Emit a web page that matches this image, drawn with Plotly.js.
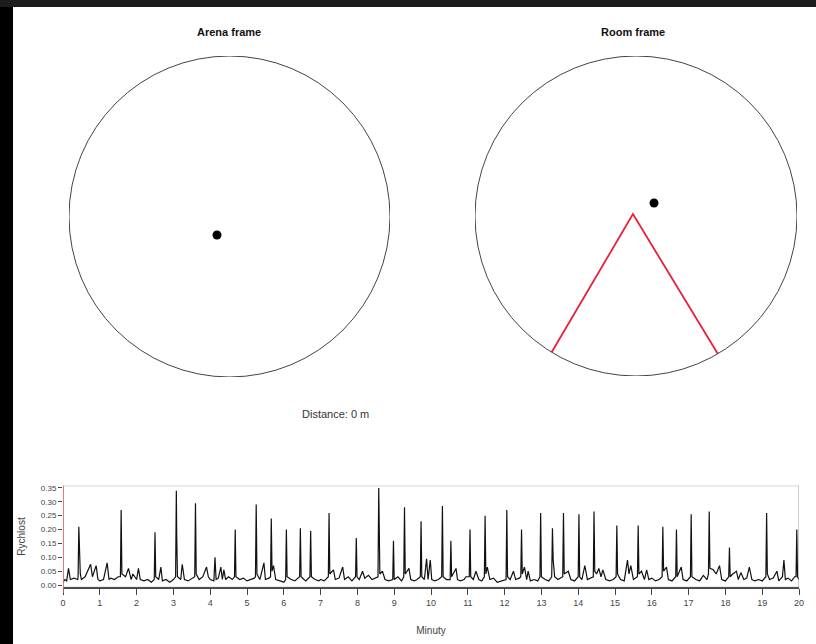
<!DOCTYPE html>
<html>
<head>
<meta charset="utf-8">
<script src="https://cdn.plot.ly/plotly-3.0.1.min.js"></script>
<style>html,body{margin:0;padding:0;background:#fff;}#chart{width:816px;height:644px;}</style>
</head>
<body>
<div id="chart"></div>
<script>
// ---- Data ----
const panelTitles = ["Arena frame", "Room frame"];
const distanceLabel = "Distance: 0 m";
const arenaRadius = 1;
const arenaDot = [-0.078, -0.115];   // animal position, arena frame
const roomDot = [0.112, 0.081];      // animal position, room frame
const sectorX = [-0.524, -0.019, 0.508]; // shock sector edges, room frame
const sectorY = [-0.852, 0.012, -0.861];
const currentMinute = 0;

const minutes = [
 0,0.05,0.1,0.15,0.2,0.3,0.4,0.41,0.43,0.45,0.47,0.5,0.6,0.7,0.75,0.8,0.9,0.95,
 1.0,1.1,1.2,1.25,1.3,1.4,1.5,1.56,1.58,1.6,1.7,1.78,1.85,1.9,
 2.0,2.05,2.1,2.2,2.3,2.4,2.48,2.5,2.52,2.6,2.66,2.7,2.8,2.9,
 3.0,3.06,3.08,3.09,3.11,3.2,3.24,3.3,3.4,3.5,3.58,3.6,3.62,3.7,3.8,3.9,3.95,
 4.0,4.1,4.13,4.16,4.22,4.29,4.33,4.37,4.42,4.5,4.6,4.66,4.68,4.7,4.8,4.9,
 5.0,5.1,5.2,5.23,5.25,5.27,5.35,5.46,5.5,5.6,5.64,5.66,5.68,5.72,5.78,5.9,
 6.0,6.05,6.07,6.09,6.2,6.3,6.4,6.43,6.45,6.47,6.55,6.6,6.71,6.73,6.75,6.85,6.95,
 7.0,7.1,7.21,7.23,7.25,7.35,7.4,7.5,7.6,7.65,7.75,7.85,7.95,7.97,7.99,
 8.05,8.14,8.2,8.3,8.4,8.5,8.56,8.58,8.59,8.61,8.68,8.75,8.85,8.96,8.98,9.0,
 9.1,9.2,9.26,9.28,9.3,9.4,9.45,9.55,9.62,9.71,9.73,9.75,9.82,9.88,9.92,9.98,
 10.02,10.1,10.2,10.29,10.31,10.33,10.42,10.52,10.54,10.56,10.68,10.72,10.8,10.9,10.95,
 11.04,11.06,11.08,11.15,11.22,11.3,11.38,11.45,11.47,11.49,11.53,11.6,11.7,11.8,11.9,
 12.04,12.06,12.08,12.15,12.24,12.3,12.4,12.44,12.46,12.48,12.54,12.6,12.64,12.7,12.8,12.9,12.96,12.98,13.0,
 13.1,13.2,13.28,13.3,13.32,13.36,13.45,13.58,13.6,13.62,13.73,13.8,13.9,14.0,
 14.02,14.04,14.1,14.18,14.25,14.35,14.41,14.43,14.45,14.5,14.56,14.62,14.67,14.75,14.85,14.95,
 15.03,15.05,15.07,15.15,15.25,15.34,15.38,15.43,15.5,15.61,15.63,15.65,15.72,15.8,15.86,15.92,
 16.0,16.1,16.2,16.28,16.3,16.32,16.4,16.45,16.55,16.65,16.67,16.69,16.8,16.85,16.95,
 17.05,17.07,17.09,17.2,17.3,17.4,17.5,17.54,17.56,17.58,17.67,17.75,17.84,17.9,18.0,
 18.09,18.11,18.13,18.2,18.3,18.35,18.42,18.5,18.58,18.65,18.72,18.8,18.9,19.0,
 19.1,19.12,19.14,19.2,19.3,19.4,19.45,19.55,19.59,19.63,19.7,19.8,19.88,19.92,19.94,19.96,20.0
];
const speed = [
 0.01,0.02,0.015,0.06,0.02,0.025,0.02,0.03,0.21,0.11,0.04,0.02,0.03,0.06,0.075,0.03,0.07,0.02,
 0.015,0.02,0.08,0.02,0.025,0.02,0.03,0.03,0.27,0.04,0.03,0.06,0.02,0.04,
 0.02,0.06,0.02,0.015,0.02,0.01,0.02,0.19,0.03,0.02,0.065,0.015,0.02,0.01,
 0.02,0.03,0.34,0.18,0.03,0.02,0.075,0.02,0.015,0.025,0.03,0.295,0.04,0.02,0.03,0.065,0.03,
 0.02,0.015,0.10,0.02,0.025,0.065,0.02,0.055,0.02,0.03,0.02,0.03,0.20,0.03,0.02,0.025,
 0.015,0.02,0.025,0.03,0.29,0.04,0.02,0.08,0.02,0.025,0.03,0.24,0.05,0.07,0.02,0.015,
 0.01,0.02,0.20,0.03,0.02,0.015,0.025,0.03,0.205,0.03,0.02,0.015,0.03,0.195,0.03,0.02,0.015,
 0.02,0.015,0.03,0.26,0.04,0.055,0.02,0.025,0.065,0.02,0.03,0.015,0.03,0.17,0.03,
 0.02,0.05,0.025,0.035,0.02,0.025,0.03,0.35,0.18,0.04,0.05,0.02,0.015,0.02,0.16,0.02,
 0.03,0.015,0.03,0.28,0.04,0.06,0.02,0.015,0.02,0.03,0.23,0.03,0.02,0.095,0.02,0.09,
 0.02,0.015,0.02,0.03,0.285,0.03,0.02,0.02,0.16,0.03,0.06,0.02,0.015,0.02,0.03,
 0.03,0.20,0.03,0.02,0.05,0.02,0.015,0.03,0.25,0.04,0.065,0.02,0.025,0.01,0.015,
 0.02,0.27,0.03,0.02,0.05,0.02,0.025,0.03,0.20,0.04,0.065,0.02,0.05,0.015,0.02,0.015,0.03,0.26,0.03,
 0.02,0.015,0.03,0.205,0.09,0.03,0.02,0.03,0.26,0.04,0.05,0.02,0.015,0.03,
 0.255,0.03,0.02,0.07,0.02,0.025,0.03,0.265,0.05,0.04,0.06,0.03,0.055,0.02,0.015,0.02,
 0.03,0.215,0.04,0.02,0.015,0.09,0.04,0.07,0.02,0.03,0.215,0.04,0.05,0.02,0.055,0.02,
 0.025,0.015,0.02,0.03,0.21,0.05,0.065,0.02,0.015,0.03,0.20,0.03,0.065,0.02,0.015,
 0.03,0.255,0.03,0.02,0.015,0.035,0.02,0.04,0.265,0.06,0.055,0.04,0.07,0.02,0.015,
 0.03,0.135,0.03,0.04,0.05,0.02,0.045,0.02,0.025,0.065,0.02,0.015,0.02,0.015,
 0.03,0.26,0.04,0.02,0.025,0.05,0.015,0.03,0.09,0.02,0.025,0.015,0.03,0.03,0.20,0.03,0.02
];
const yTicks = [0, 0.05, 0.10, 0.15, 0.20, 0.25, 0.30, 0.35];
const xTicks = [0,1,2,3,4,5,6,7,8,9,10,11,12,13,14,15,16,17,18,19,20];
const yLabel = "Rychlost";
const xLabel = "Minuty";

// ---- Geometry helpers (pixel -> paper) ----
const W = 816, H = 644;
const px = v => v / W;
const py = v => (H - v) / H;
const FONT = "Liberation Sans, Arial, sans-serif";

const hidden = {visible: false, fixedrange: true};
const traces = [
  {x: minutes, y: speed, xaxis: 'x', yaxis: 'y', type: 'scatter', mode: 'lines',
   line: {color: '#111', width: 1.2}, hoverinfo: 'x+y', showlegend: false},
  {x: [arenaDot[0]], y: [arenaDot[1]], xaxis: 'x2', yaxis: 'y2', type: 'scatter', mode: 'markers',
   marker: {color: '#000', size: 9}, showlegend: false},
  {x: [roomDot[0]], y: [roomDot[1]], xaxis: 'x3', yaxis: 'y3', type: 'scatter', mode: 'markers',
   marker: {color: '#000', size: 9}, showlegend: false},
  {x: sectorX, y: sectorY, xaxis: 'x3', yaxis: 'y3', type: 'scatter', mode: 'lines',
   line: {color: 'rgb(232,32,58)', width: 1.8}, showlegend: false}
];

const layout = {
  width: W, height: H,
  margin: {l: 0, r: 0, t: 0, b: 0},
  paper_bgcolor: '#fff', plot_bgcolor: 'rgba(0,0,0,0)',
  font: {family: FONT, color: '#333'},
  showlegend: false,
  xaxis: {domain: [px(63), px(799)], range: [0, 20], tickvals: xTicks,
    ticks: 'outside', ticklen: 6, tickcolor: '#444', tickfont: {size: 9, color: '#444'},
    showline: true, linecolor: '#444', linewidth: 2, showgrid: false, zeroline: false,
    automargin: false, fixedrange: true,
    title: {text: xLabel, font: {size: 10, color: '#444'}, standoff: 20}},
  yaxis: {domain: [py(587.3), py(485.7)], range: [-0.008, 0.358], tickvals: yTicks,
    tickformat: '.2f', ticks: 'outside', ticklen: 4, tickcolor: '#444',
    tickfont: {size: 8, color: '#444'}, showline: false, showgrid: false, zeroline: false,
    automargin: false, fixedrange: true,
    title: {text: yLabel, font: {size: 10, color: '#444'}, standoff: 13}},
  xaxis2: Object.assign({domain: [px(69), px(390)], range: [-1, 1]}, hidden),
  yaxis2: Object.assign({domain: [py(377), py(56)], range: [-1, 1]}, hidden),
  xaxis3: Object.assign({domain: [px(475), px(797)], range: [-1, 1]}, hidden),
  yaxis3: Object.assign({domain: [py(376), py(56)], range: [-1, 1]}, hidden),
  shapes: [
    {type: 'circle', xref: 'x2', yref: 'y2', x0: -arenaRadius, x1: arenaRadius, y0: -arenaRadius, y1: arenaRadius,
     line: {color: '#444', width: 1}},
    {type: 'circle', xref: 'x3', yref: 'y3', x0: -arenaRadius, x1: arenaRadius, y0: -arenaRadius, y1: arenaRadius,
     line: {color: '#444', width: 1}},
    {type: 'rect', xref: 'x', yref: 'y', x0: 0, x1: 20, y0: -0.008, y1: 0.358,
     line: {color: '#999', width: 1}},
    {type: 'line', xref: 'x', yref: 'paper', x0: currentMinute, x1: currentMinute, y0: py(593), y1: py(485.7),
     line: {color: 'rgb(240,90,100)', width: 1.5}},
    {type: 'rect', xref: 'paper', yref: 'paper', x0: 0, x1: px(13), y0: 0, y1: 1,
     fillcolor: '#000', line: {width: 0}},
    {type: 'rect', xref: 'paper', yref: 'paper', x0: 0, x1: 1, y0: py(7), y1: 1,
     fillcolor: '#1c1c1c', line: {width: 0}}
  ],
  annotations: [
    {text: '<b>' + panelTitles[0] + '</b>', xref: 'paper', yref: 'paper', x: px(229), y: py(32),
     xanchor: 'center', yanchor: 'middle', showarrow: false, font: {size: 11, color: '#111', family: FONT}},
    {text: '<b>' + panelTitles[1] + '</b>', xref: 'paper', yref: 'paper', x: px(633), y: py(32),
     xanchor: 'center', yanchor: 'middle', showarrow: false, font: {size: 11, color: '#111', family: FONT}},
    {text: distanceLabel, xref: 'paper', yref: 'paper', x: px(335), y: py(414),
     xanchor: 'center', yanchor: 'middle', showarrow: false, font: {size: 11, color: '#333', family: FONT}}
  ]
};

Plotly.newPlot('chart', traces, layout, {displayModeBar: false, staticPlot: true});
</script>
</body>
</html>
